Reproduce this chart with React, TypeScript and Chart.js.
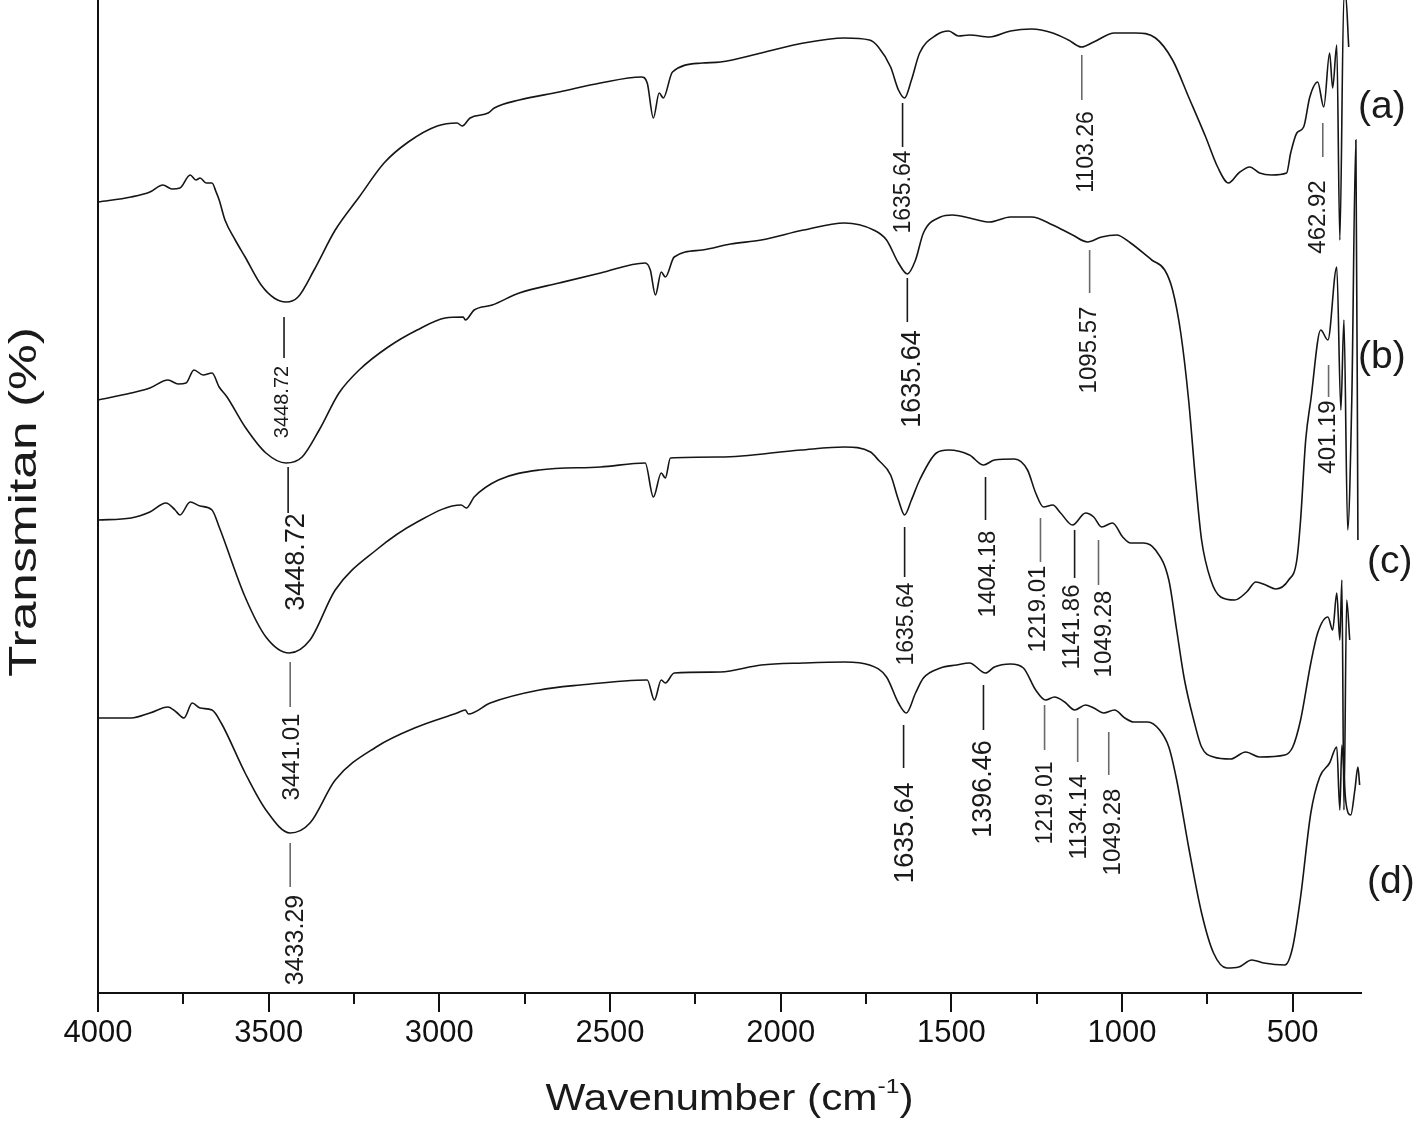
import React, { useEffect, useRef } from 'react';
import { Chart, registerables } from 'chart.js';

Chart.register(...registerables);

const FONT = "'Liberation Sans', Arial, Helvetica, sans-serif";

// ---- x axis ticks ----
const xTickValues = [4000, 3750, 3500, 3250, 3000, 2750, 2500, 2250, 2000, 1750, 1500, 1250, 1000, 750, 500];

// ---- spectrum (a) ----
const waveA = [4000, 3903, 3848, 3810, 3783, 3760, 3730, 3713, 3701, 3683, 3666, 3654, 3645, 3628, 3598, 3569, 3522, 3484, 3449, 3414, 3367, 3305, 3235, 3162, 3091, 3006, 2948, 2933, 2910, 2857, 2839, 2766, 2649, 2528, 2408, 2391, 2373, 2356, 2344, 2317, 2229, 2177, 2057, 1933, 1813, 1740, 1714, 1678, 1655, 1637, 1617, 1593, 1544, 1508, 1479, 1447, 1388, 1327, 1265, 1203, 1157, 1119, 1083, 1022, 960, 902, 852, 805, 755, 720, 688, 658, 626, 597, 562, 518, 506, 488, 468, 450, 427, 409, 392, 383, 371, 362, 350, 345, 336];
const transA = [79.1, 79.6, 80.1, 80.8, 80.4, 80.5, 81.8, 81.3, 81.5, 81.0, 81.0, 80.1, 79.3, 77.3, 75.3, 73.6, 70.8, 69.5, 69.1, 69.6, 72.3, 76.3, 79.6, 83.0, 85.1, 86.7, 87.0, 86.7, 87.5, 88.0, 88.5, 89.3, 90.1, 91.0, 91.6, 91.0, 87.5, 90.0, 89.5, 92.1, 93.0, 93.1, 94.0, 95.0, 95.5, 95.3, 94.6, 92.6, 90.3, 89.5, 91.3, 94.0, 95.8, 96.2, 95.7, 95.8, 95.6, 96.2, 96.4, 96.0, 95.3, 94.6, 95.1, 96.0, 96.0, 95.5, 93.3, 89.6, 85.6, 82.6, 81.0, 82.0, 82.6, 82.0, 81.8, 82.0, 84.0, 86.0, 86.6, 89.6, 91.1, 88.6, 94.0, 90.5, 94.8, 75.3, 99.8, 99.8, 94.6];

// ---- spectrum (b) ----
const waveB = [4000, 3903, 3848, 3795, 3765, 3742, 3719, 3692, 3666, 3645, 3622, 3569, 3508, 3449, 3402, 3352, 3294, 3235, 3150, 3065, 2983, 2930, 2924, 2898, 2845, 2766, 2649, 2528, 2397, 2382, 2367, 2350, 2338, 2312, 2229, 2147, 2057, 1933, 1813, 1728, 1690, 1655, 1629, 1605, 1582, 1532, 1497, 1447, 1388, 1327, 1265, 1203, 1145, 1101, 1060, 1016, 975, 913, 875, 852, 828, 805, 784, 767, 740, 711, 670, 635, 608, 579, 550, 512, 488, 477, 462, 447, 418, 397, 371, 359, 350, 339, 327, 315, 309];
const transB = [59.3, 60.0, 60.5, 61.3, 60.9, 61.0, 62.3, 61.8, 62.0, 60.6, 59.6, 56.6, 54.0, 53.0, 53.6, 56.3, 60.0, 62.3, 64.6, 66.3, 67.5, 67.6, 67.3, 68.3, 68.8, 70.0, 71.0, 72.0, 73.0, 72.3, 69.8, 72.1, 71.6, 73.6, 74.3, 74.9, 75.3, 76.3, 77.0, 76.3, 75.3, 73.0, 71.9, 73.3, 76.0, 77.6, 77.8, 77.5, 77.1, 77.6, 77.6, 76.8, 75.8, 75.1, 75.6, 75.8, 75.0, 73.3, 72.3, 70.3, 66.0, 59.3, 51.0, 45.3, 41.3, 39.6, 39.3, 40.1, 41.1, 40.8, 40.4, 41.3, 43.3, 47.3, 55.3, 59.3, 66.3, 65.3, 72.6, 58.3, 67.3, 46.3, 59.3, 85.3, 45.3];

// ---- spectrum (c) ----
const waveC = [4000, 3903, 3848, 3801, 3774, 3760, 3730, 3701, 3666, 3645, 3569, 3508, 3440, 3379, 3305, 3185, 3065, 2936, 2921, 2898, 2827, 2707, 2528, 2397, 2373, 2350, 2338, 2323, 2177, 1942, 1813, 1737, 1714, 1678, 1655, 1637, 1617, 1593, 1544, 1508, 1447, 1406, 1374, 1315, 1277, 1253, 1230, 1203, 1180, 1145, 1107, 1083, 1060, 1028, 998, 975, 937, 902, 863, 840, 817, 790, 767, 732, 682, 638, 597, 523, 500, 477, 447, 427, 397, 383, 371, 362, 356, 350, 342, 333];
const transC = [47.3, 47.5, 48.1, 49.0, 48.3, 47.8, 49.1, 48.7, 48.3, 46.6, 39.6, 35.6, 34.0, 35.3, 40.3, 44.3, 47.1, 48.8, 48.5, 49.6, 51.3, 52.3, 52.6, 53.0, 49.6, 52.0, 51.5, 53.5, 53.6, 54.3, 54.6, 54.1, 53.3, 51.8, 49.3, 47.8, 49.3, 51.3, 54.0, 54.3, 53.8, 52.8, 53.3, 53.4, 52.3, 50.0, 48.6, 48.8, 48.0, 46.8, 48.0, 47.6, 46.6, 47.0, 45.6, 45.0, 45.0, 44.3, 41.3, 36.3, 31.3, 27.3, 24.6, 23.6, 23.4, 24.1, 23.6, 23.8, 24.6, 27.3, 33.0, 36.0, 37.6, 36.3, 40.0, 35.3, 41.3, 18.3, 39.3, 35.3];

// ---- spectrum (d) ----
const waveD = [4000, 3903, 3848, 3795, 3771, 3748, 3724, 3701, 3666, 3639, 3569, 3508, 3437, 3379, 3305, 3185, 3065, 2948, 2924, 2915, 2851, 2707, 2587, 2391, 2370, 2350, 2338, 2312, 2177, 2057, 1933, 1813, 1740, 1690, 1655, 1632, 1605, 1582, 1532, 1485, 1447, 1400, 1374, 1327, 1289, 1253, 1224, 1198, 1168, 1139, 1107, 1083, 1054, 1022, 992, 966, 925, 890, 863, 840, 805, 767, 732, 693, 658, 620, 585, 523, 500, 477, 447, 421, 392, 371, 362, 356, 345, 330, 318, 309, 304];
const transD = [27.5, 27.5, 28.0, 28.6, 28.1, 27.5, 29.0, 28.5, 28.3, 27.0, 22.0, 18.3, 16.0, 17.0, 21.3, 24.6, 26.6, 28.0, 28.3, 27.9, 29.0, 30.3, 30.8, 31.3, 29.3, 31.3, 31.0, 32.0, 32.1, 32.8, 33.0, 33.1, 32.8, 31.6, 29.0, 28.0, 30.0, 31.5, 32.5, 32.8, 33.0, 32.0, 32.6, 32.9, 32.5, 30.3, 29.3, 29.6, 29.1, 28.3, 28.8, 28.5, 28.0, 28.3, 27.5, 27.1, 27.1, 26.3, 24.6, 21.3, 14.6, 8.0, 4.0, 2.5, 2.6, 3.3, 3.0, 2.8, 4.6, 9.6, 18.0, 21.6, 23.0, 24.6, 18.3, 24.8, 19.3, 17.8, 20.3, 22.6, 20.8];

const seriesNames = ['(a)', '(b)', '(c)', '(d)'];
const seriesNameLevel = [88.6, 63.6, 43.1, 11.1];

// ---- peak annotations ----
const peakLabels = ['3448.72', '1635.64', '1103.26', '462.92', '3448.72', '1635.64', '1095.57', '401.19', '3441.01', '1635.64', '1404.18', '1219.01', '1141.86', '1049.28', '3433.29', '1635.64', '1396.46', '1219.01', '1134.14', '1049.28'];
const peakWave = [3455, 1643, 1118, 412, 3443, 1629, 1095, 395, 3437, 1637, 1400, 1239, 1139, 1069, 3437, 1640, 1406, 1227, 1130, 1039];
const peakLineTop = [67.6, 89.0, 93.8, 87.0, 52.6, 71.5, 74.3, 62.8, 33.1, 46.6, 51.6, 47.5, 46.3, 45.3, 15.0, 26.8, 30.8, 28.8, 27.5, 26.1];
const peakLineBottom = [63.5, 84.6, 89.3, 83.6, 48.0, 67.1, 70.0, 59.6, 28.6, 41.6, 47.3, 43.1, 41.5, 40.8, 10.6, 22.5, 26.3, 24.3, 23.1, 21.8];
const peakTextLevel = [59.1, 80.1, 84.1, 77.6, 43.1, 61.4, 64.3, 55.6, 23.6, 36.9, 41.9, 38.4, 36.6, 35.9, 5.3, 16.0, 20.4, 19.0, 17.6, 16.1];
// styling of each annotation (font px, text shift px, grey leader line)
const peakFontPx = [20, 23, 23, 24, 27, 27, 24, 24, 24, 23, 24, 24, 24, 24, 25, 28, 27, 23, 24, 24];
const peakShiftPx = [-2, 1, 5, -4, 8, 5, 0, 0, 2, 2, 3, -2, -2, 6, 6, 2, 0, 1, 2, 5];
const peakGrey = [false, false, true, true, false, false, true, true, true, false, false, true, false, true, true, false, false, true, true, true];

const overlayPlugin = {
  id: 'overlay',
  beforeDraw(chart: any) {
    const ctx = chart.ctx;
    ctx.save();
    ctx.fillStyle = '#ffffff';
    ctx.fillRect(0, 0, chart.width, chart.height);
    ctx.restore();
  },
  afterDraw(chart: any) {
    const { ctx, chartArea } = chart;
    const xs = chart.scales.x;
    const ys = chart.scales.y;
    ctx.save();

    // x tick marks (long for labelled, short for minor)
    ctx.strokeStyle = '#111';
    ctx.lineWidth = 2;
    for (const t of xs.ticks) {
      const px = Math.round(xs.getPixelForValue(t.value));
      const len = t.value % 500 === 0 ? 19 : 11;
      ctx.beginPath();
      ctx.moveTo(px, chartArea.bottom);
      ctx.lineTo(px, chartArea.bottom + len);
      ctx.stroke();
    }

    // peak annotations
    for (let i = 0; i < peakLabels.length; i++) {
      const px = xs.getPixelForValue(peakWave[i]);
      const y1 = ys.getPixelForValue(peakLineTop[i]);
      const y2 = ys.getPixelForValue(peakLineBottom[i]);
      ctx.strokeStyle = peakGrey[i] ? '#6a6a6a' : '#1a1a1a';
      ctx.lineWidth = 1.6;
      ctx.beginPath();
      ctx.moveTo(px, y1);
      ctx.lineTo(px, y2);
      ctx.stroke();
      const ty = ys.getPixelForValue(peakTextLevel[i]);
      ctx.save();
      ctx.translate(px + peakShiftPx[i], ty);
      ctx.rotate(-Math.PI / 2);
      ctx.fillStyle = '#1a1a1a';
      ctx.font = `${peakFontPx[i]}px ${FONT}`;
      ctx.textAlign = 'center';
      ctx.textBaseline = 'middle';
      ctx.fillText(peakLabels[i], 0, 0);
      ctx.restore();
    }

    // series names
    ctx.fillStyle = '#1a1a1a';
    ctx.font = `39px ${FONT}`;
    ctx.textAlign = 'left';
    ctx.textBaseline = 'middle';
    seriesNames.forEach((n, i) => {
      const xoff = i < 2 ? -3 : 6;
      ctx.fillText(n, chartArea.right + xoff, ys.getPixelForValue(seriesNameLevel[i]));
    });

    // x-axis title with superscript
    const titleWidth = 368;
    const cx = (chartArea.left + chartArea.right) / 2;
    const base = 1110;
    ctx.font = `36px ${FONT}`;
    const p1 = 'Wavenumber (cm';
    const p3 = ')';
    const w1 = ctx.measureText(p1).width;
    const w3 = ctx.measureText(p3).width;
    ctx.font = `21px ${FONT}`;
    const w2 = ctx.measureText('-1').width;
    const total = w1 + w2 + w3;
    const sx = titleWidth / total;
    ctx.save();
    ctx.translate(cx - titleWidth / 2, base);
    ctx.scale(sx, 1);
    ctx.textBaseline = 'alphabetic';
    ctx.textAlign = 'left';
    ctx.font = `36px ${FONT}`;
    ctx.fillText(p1, 0, 0);
    ctx.font = `21px ${FONT}`;
    ctx.fillText('-1', w1, -17);
    ctx.font = `36px ${FONT}`;
    ctx.fillText(p3, w1 + w2, 0);
    ctx.restore();

    // y-axis title
    ctx.save();
    ctx.font = `38px ${FONT}`;
    const yt = 'Transmitan (%)';
    const wy = ctx.measureText(yt).width;
    ctx.translate(36, 502);
    ctx.rotate(-Math.PI / 2);
    ctx.scale(350 / wy, 1);
    ctx.textAlign = 'center';
    ctx.textBaseline = 'alphabetic';
    ctx.fillText(yt, 0, 0);
    ctx.restore();

    ctx.restore();
  },
};

function toPoints(w: number[], t: number[]) {
  return w.map((x, i) => ({ x, y: t[i] }));
}

export default function App() {
  const ref = useRef<HTMLCanvasElement>(null);
  useEffect(() => {
    const lineStyle = {
      borderColor: '#151515',
      borderWidth: 1.6,
      pointRadius: 0,
      fill: false,
      cubicInterpolationMode: 'monotone' as const,
    };
    const chart = new Chart(ref.current as HTMLCanvasElement, {
      type: 'line',
      data: {
        datasets: [
          { label: '(a)', data: toPoints(waveA, transA), ...lineStyle },
          { label: '(b)', data: toPoints(waveB, transB), ...lineStyle },
          { label: '(c)', data: toPoints(waveC, transC), ...lineStyle },
          { label: '(d)', data: toPoints(waveD, transD), ...lineStyle },
        ],
      },
      options: {
        animation: false,
        responsive: false,
        devicePixelRatio: 1,
        layout: { padding: { left: 0, right: 57, top: 0, bottom: 0 } },
        plugins: { legend: { display: false }, tooltip: { enabled: false } },
        scales: {
          x: {
            type: 'linear',
            reverse: true,
            min: 300,
            max: 4000,
            afterBuildTicks: (s: any) => { s.ticks = xTickValues.map((v) => ({ value: v })); },
            afterFit: (s: any) => { s.height = 145; },
            grid: { display: false, drawTicks: false, tickLength: 0 },
            border: { display: true, color: '#111', width: 2 },
            ticks: {
              autoSkip: false,
              maxRotation: 0,
              minRotation: 0,
              padding: 22,
              color: '#111',
              font: { size: 31, family: FONT },
              callback: (v: any) => (Number(v) % 500 === 0 ? String(v) : ''),
            },
          },
          y: {
            type: 'linear',
            min: 0,
            max: 99.3,
            afterFit: (s: any) => { s.width = 98; },
            grid: { display: false, drawTicks: false },
            border: { display: true, color: '#111', width: 2 },
            ticks: { display: false },
          },
        },
      },
      plugins: [overlayPlugin],
    } as any);
    return () => chart.destroy();
  }, []);
  return (
    <div style={{ position: 'absolute', left: 0, top: 0, width: 1418, height: 1138, background: '#fff' }}>
      <canvas ref={ref} width={1418} height={1138} style={{ display: 'block', width: 1418, height: 1138 }} />
    </div>
  );
}
